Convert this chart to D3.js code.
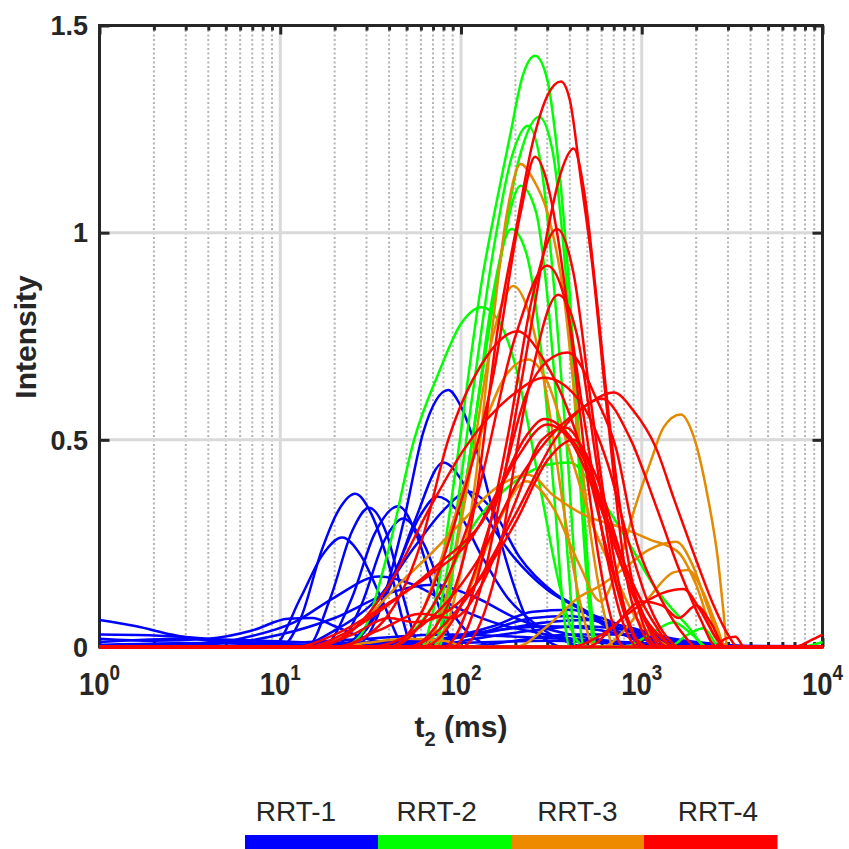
<!DOCTYPE html>
<meta charset="utf-8">
<script src="https://d3js.org/d3.v7.min.js"></script>
<style>
  body { margin: 0; background: #fff; }
  text { font-family: "Liberation Sans", Arial, Helvetica, sans-serif; fill: #262626; }
</style>
<div id="my_dataviz"></div>
<script>
// rock types shown in the colour bar
const groups = ["RRT-1", "RRT-2", "RRT-3", "RRT-4"];
const xTickExps = [0, 1, 2, 3, 4];
const yTicks = [0, 0.5, 1, 1.5];

// T2 spectra: [t2 (ms), intensity]
const rrt1 = [
  [[1,0],[10,0],[13,0.07],[17,0.235],[21,0.33],[26,0.37],[32,0.32],[41,0.18],[48,0.06],[54,0],[1e4,0]],
  [[1,0],[14,0],[19,0.12],[25,0.28],[31,0.336],[39,0.27],[48,0.12],[60,0],[1e4,0]],
  [[1,0],[9,0],[13,0.12],[17,0.22],[22,0.264],[28,0.22],[36,0.12],[50,0],[1e4,0]],
  [[1,0],[17,0],[25,0.12],[33,0.27],[45,0.34],[58,0.26],[75,0.1],[95,0],[1e4,0]],
  [[1,0],[20,0],[28,0.1],[38,0.26],[48,0.31],[62,0.25],[85,0.1],[120,0.02],[160,0],[1e4,0]],
  [[1,0],[25,0],[35,0.08],[48,0.3],[62,0.52],[85,0.62],[100,0.58],[129,0.44],[160,0.28],[194,0.155],[233,0.065],[300,0.015],[370,0],[1e4,0]],
  [[1,0],[20,0],[30,0.05],[40,0.14],[55,0.3],[80,0.445],[118,0.356],[195,0.218],[300,0.138],[460,0.09],[700,0.04],[1000,0.02],[1500,0],[1e4,0]],
  [[1,0],[22,0],[32,0.06],[45,0.2],[60,0.32],[74,0.363],[95,0.33],[130,0.22],[180,0.12],[250,0.06],[350,0.02],[500,0],[1e4,0]],
  [[1,0],[12,0],[20,0.04],[35,0.12],[55,0.24],[80,0.33],[110,0.375],[150,0.33],[210,0.218],[330,0.13],[480,0.09],[800,0.03],[1200,0],[1e4,0]],
  [[1,0],[3,0],[6,0.02],[12,0.06],[20,0.12],[35,0.17],[55,0.15],[90,0.1],[150,0.06],[300,0.03],[600,0.01],[1000,0],[1e4,0]],
  [[1,0.003],[5,0.01],[10,0.03],[20,0.07],[40,0.13],[70,0.15],[120,0.12],[200,0.07],[400,0.03],[800,0.01],[1500,0],[1e4,0]],
  [[1,0.065],[1.6,0.05],[2.5,0.03],[4,0.015],[6,0.008],[10,0.005],[20,0],[1e4,0]],
  [[1,0.02],[2,0.015],[4,0.02],[7,0.04],[11,0.068],[15,0.07],[20,0.05],[30,0.02],[50,0.005],[80,0],[1e4,0]],
  [[1,0.03],[2,0.028],[3.5,0.022],[6,0.012],[10,0.01],[30,0.02],[80,0.03],[200,0.025],[600,0.015],[1500,0.005],[3000,0],[1e4,0]],
  [[1,0.012],[3,0.02],[8,0.015],[20,0.01],[60,0.015],[150,0.04],[300,0.05],[600,0.04],[1000,0.02],[2000,0.005],[4000,0],[1e4,0]],
  [[1,0.005],[5,0.01],[15,0.005],[50,0.01],[120,0.03],[250,0.07],[400,0.075],[700,0.05],[1200,0.02],[2500,0],[1e4,0]],
  [[1,0],[40,0],[80,0.02],[150,0.05],[250,0.085],[400,0.09],[600,0.07],[900,0.04],[1500,0.015],[3000,0],[1e4,0]],
  [[1,0],[30,0],[60,0.01],[120,0.03],[300,0.06],[500,0.065],[800,0.05],[1500,0.02],[3000,0.005],[5000,0],[1e4,0]],
  [[1,0.005],[10,0.003],[100,0.01],[300,0.015],[1000,0.008],[3000,0.003],[1e4,0.002]],
  [[1,0],[60,0],[120,0.02],[250,0.04],[450,0.05],[700,0.045],[1100,0.025],[2000,0.008],[4000,0],[1e4,0]],
  [[1,0],[100,0],[200,0.015],[400,0.03],[800,0.03],[1500,0.012],[3000,0],[1e4,0]]
];

const rrt2 = [
  [[1,0],[22,0],[28,0.03],[40,0.24],[55,0.5],[75,0.66],[100,0.78],[130,0.82],[160,0.79],[200,0.68],[270,0.4],[350,0.15],[430,0.02],[500,0],[1e4,0]],
  [[1,0],[60,0],[75,0.15],[95,0.45],[130,0.88],[160,1.09],[186,1.23],[220,1.38],[257,1.427],[300,1.37],[340,1.2],[400,0.85],[460,0.45],[520,0.12],[560,0],[1e4,0]],
  [[1,0],[70,0],[90,0.2],[120,0.55],[160,0.9],[210,1.18],[270,1.28],[320,1.2],[380,0.9],[440,0.5],[500,0.15],[550,0],[1e4,0]],
  [[1,0],[65,0],[85,0.2],[115,0.6],[150,0.95],[190,1.18],[235,1.258],[280,1.15],[330,0.85],[390,0.45],[440,0.12],[480,0],[1e4,0]],
  [[1,0],[75,0],[95,0.25],[125,0.6],[160,0.9],[214,1.113],[260,1.05],[300,0.85],[350,0.5],[400,0.15],[430,0],[1e4,0]],
  [[1,0],[70,0],[90,0.2],[120,0.55],[150,0.85],[190,1.009],[230,0.95],[280,0.7],[330,0.35],[370,0.08],[400,0],[1e4,0]],
  [[1,0],[40,0],[70,0.1],[120,0.3],[200,0.4],[300,0.44],[400,0.445],[550,0.38],[800,0.27],[1200,0.14],[1800,0.05],[2300,0],[1e4,0]],
  [[1,0],[800,0],[1100,0.03],[1500,0.06],[1900,0.03],[2300,0],[1e4,0]],
  [[1,0],[1400,0],[1800,0.03],[2200,0.045],[2700,0],[1e4,0]],
  [[1,0],[7500,0],[1e4,0.012]]
];

const rrt3 = [
  [[1,0],[70,0],[90,0.1],[120,0.4],[150,0.78],[180,1.05],[214,1.166],[250,1.13],[300,1.05],[370,0.85],[450,0.5],[530,0.25],[620,0.08],[700,0],[1e4,0]],
  [[1,0],[60,0],[80,0.1],[110,0.4],[150,0.75],[195,0.871],[240,0.8],[300,0.6],[380,0.3],[460,0.1],[550,0],[1e4,0]],
  [[1,0],[40,0],[60,0.08],[90,0.3],[130,0.52],[180,0.66],[235,0.694],[300,0.64],[400,0.47],[530,0.3],[700,0.18],[900,0.08],[1200,0.02],[1500,0],[1e4,0]],
  [[1,0],[15,0],[25,0.04],[45,0.15],[70,0.23],[100,0.3],[160,0.387],[235,0.416],[330,0.363],[500,0.315],[750,0.29],[1100,0.26],[1600,0.228],[2000,0.15],[2500,0.03],[2800,0],[1e4,0]],
  [[1,0],[60,0],[100,0.1],[160,0.3],[230,0.4],[330,0.33],[450,0.2],[593,0.11],[733,0.19],[907,0.33],[1125,0.45],[1320,0.53],[1640,0.561],[1930,0.51],[2300,0.37],[2640,0.21],[2840,0.08],[2970,0],[1e4,0]],
  [[1,0],[200,0],[300,0.05],[450,0.12],[600,0.15],[800,0.19],[1100,0.235],[1550,0.254],[1900,0.2],[2300,0.1],[2700,0.02],[3000,0],[1e4,0]],
  [[1,0],[600,0],[800,0.04],[1100,0.12],[1500,0.18],[1800,0.186],[2200,0.13],[2600,0.05],[2900,0],[1e4,0]],
  [[1,0],[20,0],[30,0.01],[50,0.02],[80,0.015],[110,0],[1e4,0]]
];

const rrt4 = [
  [[1,0],[50,0],[80,0.08],[120,0.35],[160,0.77],[200,1.0],[250,1.22],[300,1.33],[357,1.365],[400,1.32],[460,1.13],[530,0.93],[650,0.55],[800,0.2],[1000,0.04],[1200,0],[1e4,0]],
  [[1,0],[90,0],[130,0.15],[180,0.45],[250,0.8],[300,1.0],[360,1.15],[420,1.203],[480,1.1],[560,0.85],[680,0.5],[850,0.2],[1050,0.04],[1250,0],[1e4,0]],
  [[1,0],[40,0],[60,0.08],[100,0.35],[150,0.65],[214,1.05],[257,1.183],[300,1.12],[340,1.0],[420,0.7],[520,0.35],[650,0.1],[800,0],[1e4,0]],
  [[1,0],[80,0],[120,0.15],[180,0.5],[250,0.85],[340,1.009],[420,0.9],[520,0.6],[650,0.3],[820,0.08],[1000,0],[1e4,0]],
  [[1,0],[40,0],[70,0.1],[120,0.35],[200,0.75],[300,0.92],[380,0.83],[480,0.55],[620,0.25],[800,0.05],[950,0],[1e4,0]],
  [[1,0],[100,0],[150,0.15],[230,0.6],[345,0.85],[440,0.75],[560,0.45],[700,0.18],[900,0.03],[1100,0],[1e4,0]],
  [[1,0],[20,0],[35,0.05],[60,0.25],[85,0.5],[129,0.68],[205,0.762],[290,0.69],[400,0.56],[520,0.4],[680,0.19],[850,0.06],[1000,0],[1e4,0]],
  [[1,0],[60,0],[100,0.1],[160,0.36],[230,0.61],[300,0.69],[390,0.711],[560,0.6],[720,0.48],[900,0.28],[1300,0.11],[1700,0.03],[2000,0],[1e4,0]],
  [[1,0],[15,0],[25,0.04],[40,0.15],[68,0.34],[105,0.48],[195,0.61],[290,0.65],[460,0.59],[650,0.44],[850,0.25],[1100,0.1],[1400,0.02],[1600,0],[1e4,0]],
  [[1,0],[30,0],[60,0.05],[120,0.2],[220,0.42],[330,0.52],[480,0.58],[700,0.614],[900,0.57],[1200,0.48],[1500,0.36],[2000,0.21],[2500,0.1],[3000,0.03],[3400,0],[1e4,0]],
  [[1,0],[50,0],[100,0.1],[200,0.32],[330,0.5],[450,0.57],[600,0.6],[870,0.5],[1200,0.34],[1600,0.19],[2100,0.07],[2600,0],[1e4,0]],
  [[1,0],[12,0],[20,0.03],[41,0.11],[70,0.18],[113,0.26],[170,0.4],[230,0.51],[290,0.55],[380,0.52],[470,0.46],[640,0.31],[900,0.15],[1200,0.05],[1500,0],[1e4,0]],
  [[1,0],[14,0],[22,0.03],[45,0.12],[80,0.21],[130,0.3],[200,0.45],[300,0.537],[400,0.5],[520,0.4],[700,0.25],[950,0.1],[1300,0.02],[1500,0],[1e4,0]],
  [[1,0],[400,0],[600,0.03],[900,0.09],[1300,0.13],[1700,0.14],[2100,0.09],[2600,0.02],[2900,0],[1e4,0]],
  [[1,0],[500,0],[700,0.05],[1000,0.11],[1300,0.1],[1600,0.07],[2000,0.1],[2400,0.06],[2900,0],[1e4,0]],
  [[1,0],[2500,0],[2900,0.02],[3300,0.025],[3700,0],[1e4,0]],
  [[1,0],[7000,0],[8500,0.015],[1e4,0.03]],
  [[1,0],[15,0],[25,0.03],[40,0.07],[55,0.06],[80,0.08],[120,0.15],[200,0.3],[300,0.45],[420,0.5],[550,0.42],[800,0.2],[1100,0.05],[1400,0],[1e4,0]],
  [[1,0],[20,0],[35,0.04],[60,0.08],[90,0.07],[130,0.15],[200,0.35],[280,0.5],[380,0.53],[500,0.45],[700,0.25],[1000,0.08],[1300,0],[1e4,0]]
];

const seriesByGroup = [rrt1, rrt2, rrt3, rrt4];

// layout
const W = 849, H = 849;
const plot = { left: 99.5, right: 822.5, top: 25.5, bottom: 647 };
const ink = "#262626";

const color = d3.scaleOrdinal().domain(groups).range(["#0000ff", "#00ff00", "#e38a00", "#ff0000"]);
const barColor = d3.scaleOrdinal().domain(groups).range(["#0000ff", "#00ff00", "#ee8a00", "#ff0000"]);

const svg = d3.select("#my_dataviz").append("svg")
  .attr("width", W).attr("height", H);

const x = d3.scaleLog().domain([1, 1e4]).range([plot.left, plot.right]);
const y = d3.scaleLinear().domain([0, 1.5]).range([plot.bottom, plot.top]);

const majors = xTickExps.map(e => Math.pow(10, e));
const minors = [];
xTickExps.slice(0, -1).forEach(e => { for (let k = 2; k <= 9; k++) minors.push(k * Math.pow(10, e)); });

// grid: dotted minor, solid major
svg.append("g").selectAll("line").data(minors).join("line")
  .attr("x1", d => x(d)).attr("x2", d => x(d))
  .attr("y1", plot.top).attr("y2", plot.bottom)
  .attr("stroke", "#b4b4b4").attr("stroke-width", 2).attr("stroke-dasharray", "2,2.5");
svg.append("g").selectAll("line").data(majors.slice(1, -1)).join("line")
  .attr("x1", d => x(d)).attr("x2", d => x(d))
  .attr("y1", plot.top).attr("y2", plot.bottom)
  .attr("stroke", "#d9d9d9").attr("stroke-width", 3);
svg.append("g").selectAll("line").data(yTicks.slice(1, -1)).join("line")
  .attr("x1", plot.left).attr("x2", plot.right)
  .attr("y1", d => y(d)).attr("y2", d => y(d))
  .attr("stroke", "#d9d9d9").attr("stroke-width", 3);

// ticks on all four sides, pointing inward
function tickStyle(g) {
  g.select(".domain").remove();
  g.selectAll(".tick line").attr("stroke", ink).attr("stroke-width", 3);
  g.selectAll(".tick text").remove();
}
svg.append("g").attr("transform", `translate(0,${plot.bottom})`)
  .call(d3.axisBottom(x).tickValues(majors).tickSize(-9)).call(tickStyle);
svg.append("g").attr("transform", `translate(0,${plot.bottom})`)
  .call(d3.axisBottom(x).tickValues(minors).tickSize(-5)).call(tickStyle);
svg.append("g").attr("transform", `translate(0,${plot.top})`)
  .call(d3.axisTop(x).tickValues(majors).tickSize(-9)).call(tickStyle);
svg.append("g").attr("transform", `translate(0,${plot.top})`)
  .call(d3.axisTop(x).tickValues(minors).tickSize(-5)).call(tickStyle);
svg.append("g").attr("transform", `translate(${plot.left},0)`)
  .call(d3.axisLeft(y).tickValues(yTicks).tickSize(-10)).call(tickStyle);
svg.append("g").attr("transform", `translate(${plot.right},0)`)
  .call(d3.axisRight(y).tickValues(yTicks).tickSize(-10)).call(tickStyle);

// box
svg.append("rect")
  .attr("x", plot.left).attr("y", plot.top)
  .attr("width", plot.right - plot.left).attr("height", plot.bottom - plot.top)
  .attr("fill", "none").attr("stroke", ink).attr("stroke-width", 3);

// tick labels
svg.append("g").selectAll("text").data(yTicks).join("text")
  .attr("x", 88).attr("y", d => y(d))
  .attr("dy", "0.36em")
  .attr("text-anchor", "end")
  .attr("font-size", 27).attr("font-weight", "bold")
  .text(d => d);

const xl = svg.append("g").selectAll("g").data(xTickExps).join("g")
  .attr("transform", d => `translate(${x(Math.pow(10, d))},695) scale(0.86,1)`);
xl.append("text")
  .attr("text-anchor", "middle")
  .attr("font-size", 32).attr("font-weight", "bold")
  .call(t => {
    t.append("tspan").text("10");
    t.append("tspan").attr("dy", -15).attr("font-size", 22).text(d => d);
  });

// axis titles
svg.append("text")
  .attr("transform", `translate(36,337) rotate(-90)`)
  .attr("text-anchor", "middle")
  .attr("font-size", 30).attr("font-weight", "bold")
  .text("Intensity");

svg.append("text")
  .attr("x", 461).attr("y", 737)
  .attr("text-anchor", "middle")
  .attr("font-size", 30).attr("font-weight", "bold")
  .call(t => {
    t.append("tspan").text("t");
    t.append("tspan").attr("dy", 9).attr("font-size", 20).text("2");
    t.append("tspan").attr("dy", -9).text(" (ms)");
  });

// spectra
const line = d3.line()
  .x(d => x(d[0]))
  .y(d => y(d[1]))
  .curve(d3.curveMonotoneX);

groups.forEach((gname, i) => {
  svg.append("g").selectAll("path").data(seriesByGroup[i]).join("path")
    .attr("fill", "none")
    .attr("stroke", color(gname))
    .attr("stroke-width", 2.5)
    .attr("d", line);
});

// colour bar legend
const band = d3.scaleBand().domain(groups).range([245, 777]);
svg.append("g").selectAll("rect").data(groups).join("rect")
  .attr("x", d => band(d)).attr("y", 835)
  .attr("width", band.bandwidth() + 0.5).attr("height", 14)
  .attr("fill", d => barColor(d));

const labelPos = d3.scalePoint().domain(groups).range([296, 718]);
svg.append("g").selectAll("text").data(groups).join("text")
  .attr("x", d => labelPos(d)).attr("y", 821)
  .attr("text-anchor", "middle")
  .attr("font-size", 28)
  .attr("fill", "#333")
  .text(d => d);
</script>
